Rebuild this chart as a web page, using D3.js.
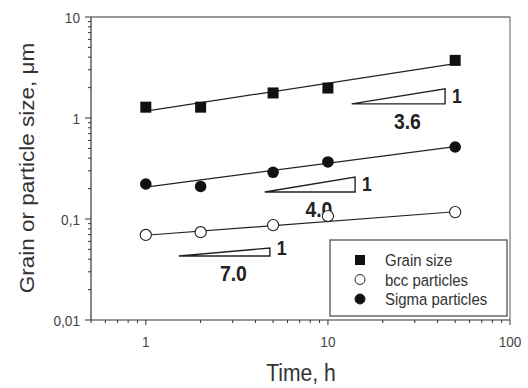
<!DOCTYPE html>
<html>
<head>
<meta charset="utf-8">
<script src="https://cdn.jsdelivr.net/npm/d3@7"></script>
<style>
  body { margin: 0; background: #fff; }
  text { font-family: "Liberation Sans", Arial, sans-serif; }
</style>
</head>
<body>
<svg id="chart" width="528" height="388"></svg>
<script>
// data
const times = [1, 2, 5, 10, 50]
const grainSize = [1.28, 1.28, 1.77, 1.98, 3.72]
const bccSize = [0.0695, 0.074, 0.087, 0.107, 0.117]
const sigmaSize = [0.222, 0.21, 0.29, 0.367, 0.516]

// fitted lines (end points at t=1 and t=50)
const fitTimes = [1, 50]
const grainFit = [1.17, 3.45]
const sigmaFit = [0.207, 0.52]
const bccFit = [0.069, 0.118]

// slope triangles: [x0, x1, yBottom, yTop, label]
const triangles = [
  [13.5, 44, 1.38, 1.94, '3.6'],
  [4.5, 14.1, 0.185, 0.26, '4.0'],
  [1.52, 4.8, 0.043, 0.0516, '7.0']
]

const xTicks = [1, 10, 100]
const yTicks = [0.01, 0.1, 1, 10]
const yTickLabels = ['0,01', '0,1', '1', '10']

const legendNames = ['Grain size', 'bcc particles', 'Sigma particles']

const svg = d3.select('#chart')
const m = { left: 91, top: 17, right: 510, bottom: 320 }
const SQ = 0.88 // the original picture is a bit squeezed sideways

const x = d3.scaleLog().domain([0.5, 100]).range([m.left, m.right])
const y = d3.scaleLog().domain([0.01, 10]).range([m.bottom, m.top])

// text helper, squeezed horizontally like the reference
function label (parent, tx, ty, str, size, anchor) {
  return parent.append('text')
    .attr('transform', `translate(${tx},${ty}) scale(${SQ},1)`)
    .attr('text-anchor', anchor || 'start')
    .attr('font-size', size)
    .attr('fill', '#333')
    .text(str)
}

// frame
svg.append('line').attr('x1', m.left).attr('x2', m.right).attr('y1', m.top).attr('y2', m.top)
  .attr('stroke', '#333').attr('stroke-width', 1.2)
svg.append('line').attr('x1', m.right).attr('x2', m.right).attr('y1', m.top).attr('y2', m.bottom)
  .attr('stroke', '#777').attr('stroke-width', 1.2)

// minor ticks
const xMinor = []
for (let d = 0.1; d <= 10; d *= 10) {
  for (let k = 2; k <= 9; k++) {
    const t = +(d * k).toPrecision(3)
    if (t >= 0.5 && t <= 100) xMinor.push(t)
  }
}
const yMinor = []
for (let d = 0.01; d < 10; d *= 10) {
  for (let k = 2; k <= 9; k++) yMinor.push(+(d * k).toPrecision(3))
}

const xAxis = svg.append('g').attr('transform', `translate(0,${m.bottom})`)
xAxis.append('line').attr('x1', m.left).attr('x2', m.right).attr('stroke', '#333').attr('stroke-width', 1.2)
xAxis.selectAll('.minor').data(xMinor).join('line')
  .attr('x1', d => x(d)).attr('x2', d => x(d)).attr('y1', 0).attr('y2', 3)
  .attr('stroke', '#333')
xAxis.selectAll('.major').data(xTicks).join('line')
  .attr('x1', d => x(d)).attr('x2', d => x(d)).attr('y1', 0).attr('y2', 5)
  .attr('stroke', '#333')
xTicks.forEach(d => label(xAxis, x(d), 27, d, 15.5, 'middle').attr('fill', '#444'))

const yAxis = svg.append('g').attr('transform', `translate(${m.left},0)`)
yAxis.append('line').attr('y1', m.top).attr('y2', m.bottom).attr('stroke', '#333').attr('stroke-width', 1.2)
yAxis.selectAll('.minor').data(yMinor).join('line')
  .attr('y1', d => y(d)).attr('y2', d => y(d)).attr('x1', 0).attr('x2', -3)
  .attr('stroke', '#333')
yAxis.selectAll('.major').data(yTicks).join('line')
  .attr('y1', d => y(d)).attr('y2', d => y(d)).attr('x1', 0).attr('x2', -6)
  .attr('stroke', '#333')
yTicks.forEach((d, i) => label(yAxis, -11, y(d) + 5.5, yTickLabels[i], 15.5, 'end').attr('fill', '#444'))

// axis titles
label(svg, 301, 381, 'Time, h', 24, 'middle')
svg.append('text')
  .attr('transform', `translate(34,168) rotate(-90) scale(1,${SQ})`)
  .attr('text-anchor', 'middle').attr('font-size', 22.5).attr('fill', '#333')
  .text('Grain or particle size, μm')

// fit lines
const line = d3.line().x(d => x(d[0])).y(d => y(d[1]))
;[grainFit, sigmaFit, bccFit].forEach(f => {
  svg.append('path').datum(fitTimes.map((t, i) => [t, f[i]]))
    .attr('d', line).attr('fill', 'none').attr('stroke', '#222').attr('stroke-width', 1.2)
})

// slope triangles
const tri = svg.append('g')
triangles.forEach(([x0, x1, yb, yt, lab]) => {
  tri.append('path')
    .attr('d', `M${x(x0)},${y(yb)} L${x(x1)},${y(yb)} L${x(x1)},${y(yt)} Z`)
    .attr('fill', '#fff').attr('stroke', '#222').attr('stroke-width', 1.4)
  label(tri, x(x1) + 7, y(yb) - 1, '1', 20, 'start').attr('font-weight', 'bold').attr('fill', '#222')
  label(tri, (x(x0) + x(x1)) / 2 + 9, y(yb) + 25, lab, 22, 'middle').attr('font-weight', 'bold').attr('fill', '#222')
})

// markers
const pts = svg.append('g')
pts.selectAll('.sq').data(times.map((t, i) => [t, grainSize[i]])).join('rect')
  .attr('x', d => x(d[0]) - 5.5).attr('y', d => y(d[1]) - 5.5)
  .attr('width', 11).attr('height', 11).attr('fill', '#111')
pts.selectAll('.sig').data(times.map((t, i) => [t, sigmaSize[i]])).join('circle')
  .attr('class', 'sig')
  .attr('cx', d => x(d[0])).attr('cy', d => y(d[1])).attr('r', 5.8).attr('fill', '#111')
pts.selectAll('.bcc').data(times.map((t, i) => [t, bccSize[i]])).join('circle')
  .attr('class', 'bcc')
  .attr('cx', d => x(d[0])).attr('cy', d => y(d[1])).attr('r', 5.6)
  .attr('fill', '#fff').attr('stroke', '#222').attr('stroke-width', 1.1)

// legend
const lg = svg.append('g').attr('transform', 'translate(330,240)')
lg.append('rect').attr('width', 177).attr('height', 76).attr('fill', '#fff')
  .attr('stroke', '#444').attr('stroke-width', 1.2)
legendNames.forEach((name, i) => {
  const base = 26 + i * 19.5
  const cy = base - 6
  if (i === 0) {
    lg.append('rect').attr('x', 25).attr('y', cy - 5).attr('width', 10).attr('height', 10).attr('fill', '#111')
  } else {
    lg.append('circle').attr('cx', 30).attr('cy', cy).attr('r', 5)
      .attr('fill', i === 1 ? '#fff' : '#111').attr('stroke', '#222')
  }
  label(lg, 55, base, name, 17, 'start')
})
</script>
</body>
</html>
